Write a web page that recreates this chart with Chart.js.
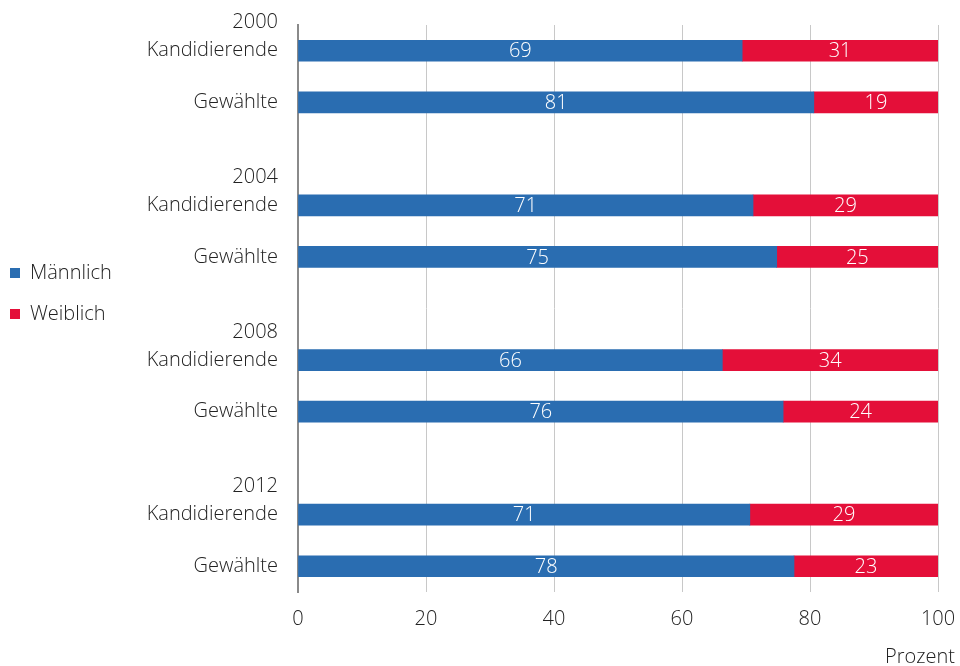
<!DOCTYPE html>
<html>
<head>
<meta charset="utf-8">
<script src="https://cdn.jsdelivr.net/npm/chart.js@4/dist/chart.umd.min.js"></script>
<style>
  html, body { margin: 0; padding: 0; background: #fff; }
  #wrap { width: 960px; height: 666px; }
</style>
</head>
<body>
<div id="wrap"><canvas id="c" width="960" height="666"></canvas></div>
<script>
const categories = [
  ['2000', 'Kandidierende', ''], 'Gewählte', '',
  ['2004', 'Kandidierende', ''], 'Gewählte', '',
  ['2008', 'Kandidierende', ''], 'Gewählte', '',
  ['2012', 'Kandidierende', ''], 'Gewählte'
];
const maennlich = [69.4, 80.6, null, 71.1, 74.8, null, 66.3, 75.8, null, 70.6, 77.5];
const weiblich  = [30.6, 19.4, null, 28.9, 25.2, null, 33.7, 24.2, null, 29.4, 22.5];
const seriesNames = ['Männlich', 'Weiblich'];
const xTicks = [0, 20, 40, 60, 80, 100];
const axisTitle = 'Prozent';

const FONT = "'Open Sans', 'Liberation Sans', Arial, sans-serif";
const WEIGHT = 300;
const TEXT = '#222222';

const valueLabels = {
  id: 'valueLabels',
  afterDatasetsDraw(chart) {
    const ctx = chart.ctx;
    ctx.save();
    ctx.fillStyle = '#ffffff';
    ctx.font = WEIGHT + ' 20px ' + FONT;
    ctx.textAlign = 'center';
    ctx.textBaseline = 'middle';
    chart.data.datasets.forEach((ds, di) => {
      const meta = chart.getDatasetMeta(di);
      meta.data.forEach((el, i) => {
        const v = ds.data[i];
        if (v === null || v === undefined) return;
        const cx = (el.x + el.base) / 2;
        ctx.fillText(String(Math.round(v)), cx, el.y + 1);
      });
    });
    ctx.restore();
  }
};

const cornerTitle = {
  id: 'cornerTitle',
  afterDraw(chart) {
    const ctx = chart.ctx;
    ctx.save();
    ctx.fillStyle = TEXT;
    ctx.font = WEIGHT + ' 20px ' + FONT;
    ctx.textAlign = 'right';
    ctx.textBaseline = 'middle';
    ctx.fillText(axisTitle, chart.width - 5, 657);
    ctx.restore();
  }
};

const legendShift = {
  id: 'legendShift',
  afterLayout(chart) {
    if (chart.legend) {
      chart.legend.bottom -= 30;
    }
  }
};

new Chart(document.getElementById('c'), {
  type: 'bar',
  data: {
    labels: categories,
    datasets: [
      { label: seriesNames[0], data: maennlich, backgroundColor: '#2a6db1', barThickness: 21 },
      { label: seriesNames[1], data: weiblich, backgroundColor: '#e40f39', barThickness: 21 }
    ]
  },
  options: {
    indexAxis: 'y',
    responsive: false,
    animation: false,
    layout: { padding: { left: -11, top: 25, right: 22, bottom: 20 } },
    plugins: {
      legend: {
        position: 'left',
        fullSize: false,
        labels: {
          boxWidth: 10, boxHeight: 10, padding: 21,
          color: TEXT, font: { family: FONT, size: 20, weight: WEIGHT }
        }
      },
      tooltip: { enabled: false }
    },
    scales: {
      x: {
        stacked: true,
        min: 0, max: 100,
        afterBuildTicks(scale) { scale.ticks = xTicks.map(v => ({ value: v })); },
        grid: { color: '#c8c8c8', lineWidth: 1, drawTicks: false },
        border: { display: false },
        ticks: { color: TEXT, font: { family: FONT, size: 20, weight: WEIGHT }, padding: 15 },
        afterFit(scale) { scale.paddingLeft = 0; scale.paddingRight = 0; }
      },
      y: {
        stacked: true,
        grid: { display: false, drawTicks: false },
        border: { display: true, color: '#8a8a8a', width: 2 },
        ticks: { color: TEXT, font: { family: FONT, size: 20, weight: WEIGHT, lineHeight: 1.4 }, padding: 20, autoSkip: false },
        afterFit(scale) {
          scale.paddingTop = 0;
          scale.paddingBottom = 0;
          const lg = scale.chart.legend;
          const lw = lg ? lg.width : 0;
          scale.width = 298 - lw + 11;
        }
      }
    }
  },
  plugins: [valueLabels, cornerTitle, legendShift]
});
</script>
</body>
</html>
